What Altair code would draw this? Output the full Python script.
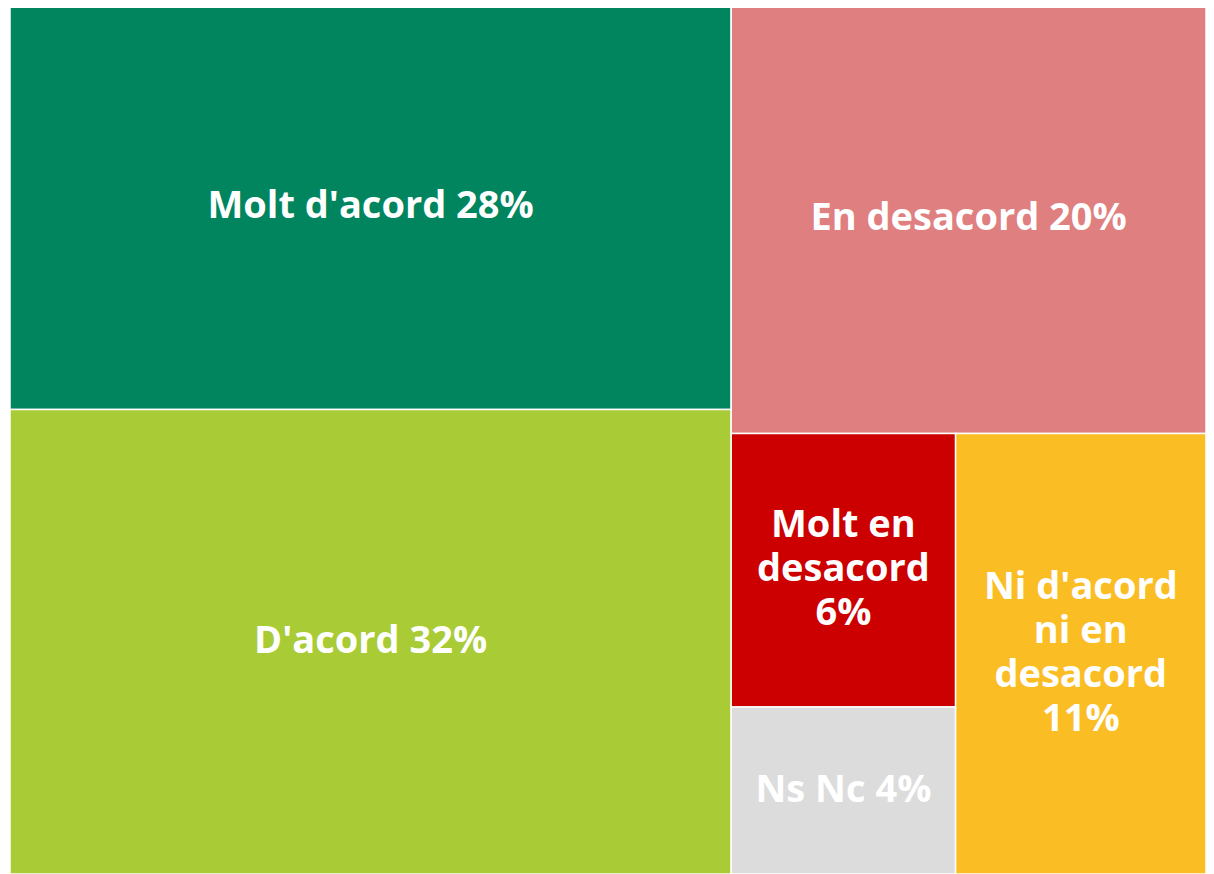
import altair as alt
import pandas as pd

# Categories, their (estimated) shares, and colours
categories = ["Molt d'acord", "D'acord", "En desacord", "Molt en desacord", "Ns Nc", "Ni d'acord ni en desacord"]
values = [28.1, 32.2, 19.6, 5.9, 3.6, 10.6]
colors = ["#00855f", "#a9cb35", "#df7f7f", "#cc0000", "#dcdcdc", "#fbbd24"]
label_lines = [
    ["Molt d'acord 28%"],
    ["D'acord 32%"],
    ["En desacord 20%"],
    ["Molt en", "desacord", "6%"],
    ["Ns Nc 4%"],
    ["Ni d'acord", "ni en", "desacord", "11%"],
]

LINE_H = 44  # pixel spacing between label lines

val = dict(zip(categories, values))

# slice structure of the treemap: (direction, children); "h" splits horizontally, "v" vertically
tree = ("h", [
    ("v", ["Molt d'acord", "D'acord"]),
    ("v", ["En desacord",
           ("h", [("v", ["Molt en desacord", "Ns Nc"]), "Ni d'acord ni en desacord"])]),
])


def total(node):
    if isinstance(node, str):
        return val[node]
    return sum(total(c) for c in node[1])


def layout(node, x0, y0, x1, y1, out):
    if isinstance(node, str):
        out[node] = (x0, y0, x1, y1)
        return
    d, children = node
    s = total(node)
    pos = x0 if d == "h" else y0
    for c in children:
        frac = total(c) / s
        if d == "h":
            w = (x1 - x0) * frac
            layout(c, pos, y0, pos + w, y1, out)
            pos += w
        else:
            h = (y1 - y0) * frac
            layout(c, x0, pos, x1, pos + h, out)
            pos += h


rects = {}
layout(tree, 0.0, 0.0, 1.0, 1.0, rects)

rect_rows = []
line_rows = []
for c, lines in zip(categories, label_lines):
    x0, y0, x1, y1 = rects[c]
    rect_rows.append({"cat": c, "x": x0, "x2": x1, "y": y0, "y2": y1})
    n = len(lines)
    for k, t in enumerate(lines):
        line_rows.append({"cat": c, "xc": (x0 + x1) / 2, "yc": (y0 + y1) / 2,
                          "line": t, "off": (k - (n - 1) / 2) * LINE_H})
rdf = pd.DataFrame(rect_rows)
ldf = pd.DataFrame(line_rows)

xs = alt.Scale(domain=[0, 1], nice=False, zero=False)
ys = alt.Scale(domain=[0, 1], nice=False, zero=False, reverse=True)

rect = alt.Chart(rdf).mark_rect(stroke="white", strokeWidth=1.5).encode(
    x=alt.X("x:Q", scale=xs, axis=None),
    x2="x2:Q",
    y=alt.Y("y:Q", scale=ys, axis=None),
    y2="y2:Q",
    color=alt.Color("cat:N", scale=alt.Scale(domain=categories, range=colors), legend=None),
)

layers = [rect]
for off in sorted(ldf["off"].unique()):
    layers.append(
        alt.Chart(ldf[ldf["off"] == off]).mark_text(
            color="white", font="Open Sans", fontWeight="bold", fontSize=38,
            align="center", baseline="middle", dy=float(off),
        ).encode(
            x=alt.X("xc:Q", scale=xs, axis=None),
            y=alt.Y("yc:Q", scale=ys, axis=None),
            text="line:N",
        )
    )

chart = alt.layer(*layers).properties(
    width=1196, height=870,
    padding={"left": 2, "top": -4, "right": 0, "bottom": 0},
    autosize=alt.AutoSizeParams(type="none"),
).configure_view(stroke=None)

chart.save("out.html", embed_options={"renderer": "svg", "actions": False})
